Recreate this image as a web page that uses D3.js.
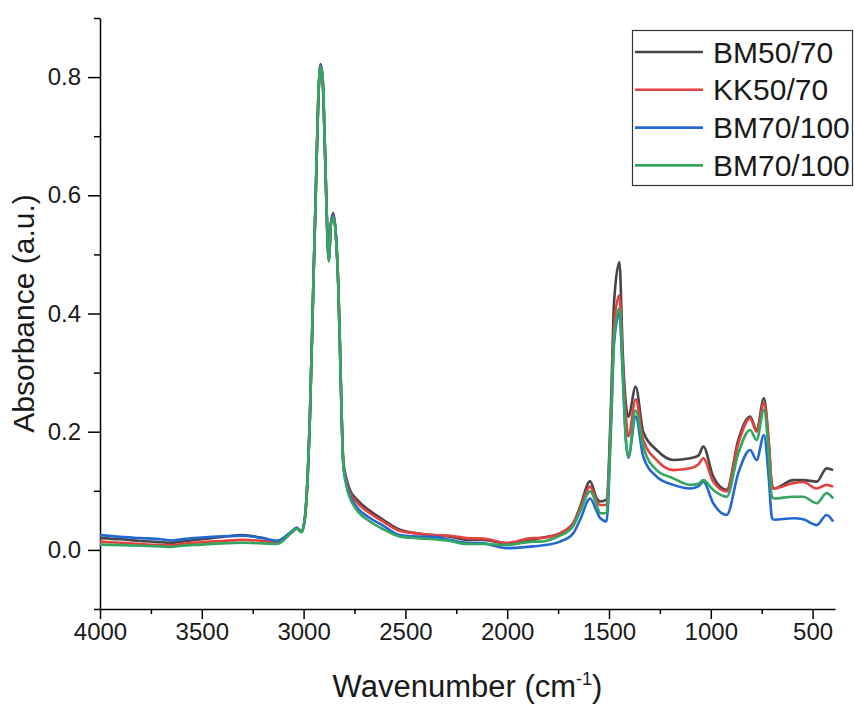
<!DOCTYPE html>
<html>
<head>
<meta charset="utf-8">
<script src="https://cdn.jsdelivr.net/npm/d3@7"></script>
<style>
  body { margin: 0; background: #fff; }
  text { font-family: "Liberation Sans", Arial, sans-serif; }
</style>
</head>
<body>
<div id="chart"></div>
<script>
// wavenumbers (cm-1), shared by all four spectra
const wavenumbers = [4000, 3900, 3800, 3700, 3650, 3600, 3500, 3400, 3300, 3200, 3130, 3060, 3034, 3010,
  2993, 2969, 2952, 2939, 2928, 2917, 2907, 2895, 2884, 2876, 2866, 2854, 2841, 2830, 2821, 2813, 2805,
  2789, 2773, 2740, 2674, 2609, 2527, 2445, 2363, 2281, 2199, 2117, 2002, 1872, 1839, 1741, 1676, 1642,
  1593, 1560, 1544, 1512, 1490, 1475, 1449, 1432, 1418, 1405, 1369, 1332, 1266, 1184, 1102, 1060, 1037,
  988, 922, 865, 807, 775, 739, 715, 700, 690, 595, 546, 480, 431, 399];

const bm5070 = [0.020, 0.018, 0.015, 0.013, 0.012, 0.014, 0.018, 0.022, 0.025, 0.020, 0.014, 0.030, 0.037, 0.031,
  0.056, 0.226, 0.451, 0.620, 0.761, 0.822, 0.800, 0.676, 0.541, 0.493, 0.552, 0.570, 0.530, 0.451, 0.338, 0.226, 0.150,
  0.120, 0.102, 0.086, 0.066, 0.051, 0.034, 0.028, 0.025, 0.0225, 0.017, 0.017, 0.011, 0.017, 0.020, 0.028, 0.045, 0.073,
  0.116, 0.087, 0.082, 0.085, 0.25, 0.42, 0.487, 0.33, 0.25, 0.2255, 0.276, 0.200, 0.169, 0.152, 0.155, 0.160, 0.175,
  0.124, 0.1015, 0.186, 0.2255, 0.203, 0.2565, 0.18, 0.11, 0.104, 0.118, 0.118, 0.1155, 0.138, 0.135];

const kk5070 = [0.014, 0.012, 0.010, 0.008, 0.008, 0.010, 0.013, 0.015, 0.017, 0.015, 0.012, 0.029, 0.036, 0.030,
  0.056, 0.226, 0.451, 0.620, 0.761, 0.820, 0.800, 0.676, 0.541, 0.491, 0.552, 0.567, 0.530, 0.451, 0.338, 0.226, 0.147,
  0.116, 0.098, 0.081, 0.062, 0.048, 0.032, 0.028, 0.025, 0.024, 0.020, 0.019, 0.012, 0.020, 0.020, 0.028, 0.045, 0.070,
  0.107, 0.082, 0.076, 0.076, 0.23, 0.38, 0.431, 0.31, 0.23, 0.192, 0.255, 0.186, 0.152, 0.135, 0.138, 0.145, 0.155,
  0.1155, 0.0987, 0.180, 0.223, 0.200, 0.248, 0.18, 0.11, 0.104, 0.113, 0.115, 0.104, 0.110, 0.107];

const bm70100a = [0.025, 0.022, 0.020, 0.018, 0.016, 0.018, 0.021, 0.023, 0.024, 0.020, 0.0155, 0.031, 0.038, 0.031,
  0.056, 0.226, 0.451, 0.620, 0.761, 0.820, 0.800, 0.676, 0.541, 0.490, 0.552, 0.566, 0.530, 0.451, 0.338, 0.226, 0.146,
  0.113, 0.093, 0.073, 0.054, 0.041, 0.025, 0.0225, 0.022, 0.017, 0.012, 0.011, 0.003, 0.006, 0.007, 0.014, 0.028, 0.051,
  0.087, 0.065, 0.054, 0.048, 0.21, 0.35, 0.400, 0.29, 0.19, 0.156, 0.2255, 0.158, 0.124, 0.110, 0.104, 0.108, 0.1155,
  0.079, 0.059, 0.130, 0.169, 0.152, 0.1945, 0.12, 0.055, 0.051, 0.0536, 0.0517, 0.042, 0.059, 0.048];

const bm70100b = [0.009, 0.008, 0.007, 0.006, 0.005, 0.007, 0.009, 0.011, 0.012, 0.011, 0.010, 0.029, 0.036, 0.030,
  0.056, 0.226, 0.451, 0.620, 0.761, 0.818, 0.800, 0.676, 0.541, 0.488, 0.550, 0.563, 0.530, 0.451, 0.338, 0.226, 0.143,
  0.107, 0.088, 0.068, 0.048, 0.035, 0.0225, 0.020, 0.018, 0.015, 0.010, 0.010, 0.0085, 0.014, 0.014, 0.024, 0.040, 0.065,
  0.099, 0.076, 0.062, 0.0625, 0.22, 0.36, 0.409, 0.30, 0.19, 0.158, 0.2357, 0.175, 0.135, 0.121, 0.110, 0.112, 0.118,
  0.1015, 0.090, 0.1635, 0.203, 0.186, 0.237, 0.16, 0.09, 0.087, 0.090, 0.090, 0.079, 0.096, 0.087];

const seriesNames = ["BM50/70", "KK50/70", "BM70/100", "BM70/100"];
const seriesValues = [bm5070, kk5070, bm70100a, bm70100b];
const seriesColors = ["#464646", "#e4403f", "#2368d2", "#34a65f"];

const xTicks = [4000, 3500, 3000, 2500, 2000, 1500, 1000, 500];
const yTicks = [0.0, 0.2, 0.4, 0.6, 0.8];

const width = 855, height = 704;
const margin = {top: 18, right: 20, bottom: 95, left: 100};

const svg = d3.select("#chart")
  .append("svg")
  .attr("width", width)
  .attr("height", height);

const x = d3.scaleLinear()
  .domain([4000, 390])
  .range([margin.left, width - margin.right]);

const y = d3.scaleLinear()
  .domain([-0.1, 0.9])
  .range([height - margin.bottom, margin.top]);

// minor ticks first, then the main axes on top
svg.append("g")
  .attr("transform", `translate(0,${height - margin.bottom})`)
  .call(d3.axisBottom(x).tickValues(d3.range(3750, 390, -500)).tickSize(5).tickFormat(""))
  .call(g => g.select(".domain").remove())
  .call(g => g.selectAll("line").attr("stroke-width", 1.5));

svg.append("g")
  .attr("transform", `translate(${margin.left},0)`)
  .call(d3.axisLeft(y).tickValues([-0.1, 0.1, 0.3, 0.5, 0.7, 0.9]).tickSize(6).tickFormat(""))
  .call(g => g.select(".domain").remove())
  .call(g => g.selectAll("line").attr("stroke-width", 1.5));

svg.append("g")
  .attr("transform", `translate(0,${height - margin.bottom})`)
  .call(d3.axisBottom(x).tickValues(xTicks).tickSize(10).tickPadding(4).tickSizeOuter(0).tickFormat(d3.format("d")))
  .call(g => g.select(".domain").attr("stroke-width", 1.5))
  .call(g => g.selectAll("line").attr("stroke-width", 1.5))
  .call(g => g.selectAll("text").attr("font-size", 24).attr("fill", "#1a1a1a")
    .attr("font-family", "Liberation Sans, Arial, sans-serif"));

svg.append("g")
  .attr("transform", `translate(${margin.left},0)`)
  .call(d3.axisLeft(y).tickValues(yTicks).tickSize(12).tickPadding(7).tickSizeOuter(0).tickFormat(d3.format(".1f")))
  .call(g => g.select(".domain").attr("stroke-width", 1.5))
  .call(g => g.selectAll("line").attr("stroke-width", 1.5))
  .call(g => g.selectAll("text").attr("font-size", 24).attr("fill", "#1a1a1a")
    .attr("font-family", "Liberation Sans, Arial, sans-serif"));

// spectra
const line = d3.line()
  .x(d => x(d[0]))
  .y(d => y(d[1]))
  .curve(d3.curveMonotoneX);

seriesValues.forEach(function (vals, i) {
  const pts = wavenumbers.map((w, j) => [w, vals[j]]);
  svg.append("path")
    .datum(pts)
    .attr("fill", "none")
    .attr("stroke", seriesColors[i])
    .attr("stroke-width", 2.6)
    .attr("stroke-linejoin", "round")
    .attr("d", line);
});

// axis titles
const xTitle = svg.append("text")
  .attr("x", (margin.left + width - margin.right) / 2)
  .attr("y", 697)
  .attr("text-anchor", "middle")
  .attr("font-size", 31)
  .attr("fill", "#1a1a1a");
xTitle.append("tspan").text("Wavenumber (cm");
xTitle.append("tspan").attr("font-size", 18).attr("dy", -12).text("-1");
xTitle.append("tspan").attr("dy", 12).text(")");

svg.append("text")
  .attr("transform", `translate(34,${(margin.top + height - margin.bottom) / 2}) rotate(-90)`)
  .attr("text-anchor", "middle")
  .attr("font-size", 30)
  .attr("fill", "#1a1a1a")
  .text("Absorbance (a.u.)");

// legend
const legend = svg.append("g");
legend.append("rect")
  .attr("x", 632.5)
  .attr("y", 30.5)
  .attr("width", 220)
  .attr("height", 155)
  .attr("fill", "#fff")
  .attr("stroke", "#333")
  .attr("stroke-width", 1.2);

seriesNames.forEach(function (name, i) {
  const ly = 52 + i * 37.8;
  legend.append("line")
    .attr("x1", 635).attr("x2", 703)
    .attr("y1", ly).attr("y2", ly)
    .attr("stroke", seriesColors[i])
    .attr("stroke-width", 2.6);
  legend.append("text")
    .attr("x", 713)
    .attr("y", ly)
    .attr("dy", "0.35em")
    .attr("font-size", 30)
    .attr("fill", "#1a1a1a")
    .text(name);
});
</script>
</body>
</html>
